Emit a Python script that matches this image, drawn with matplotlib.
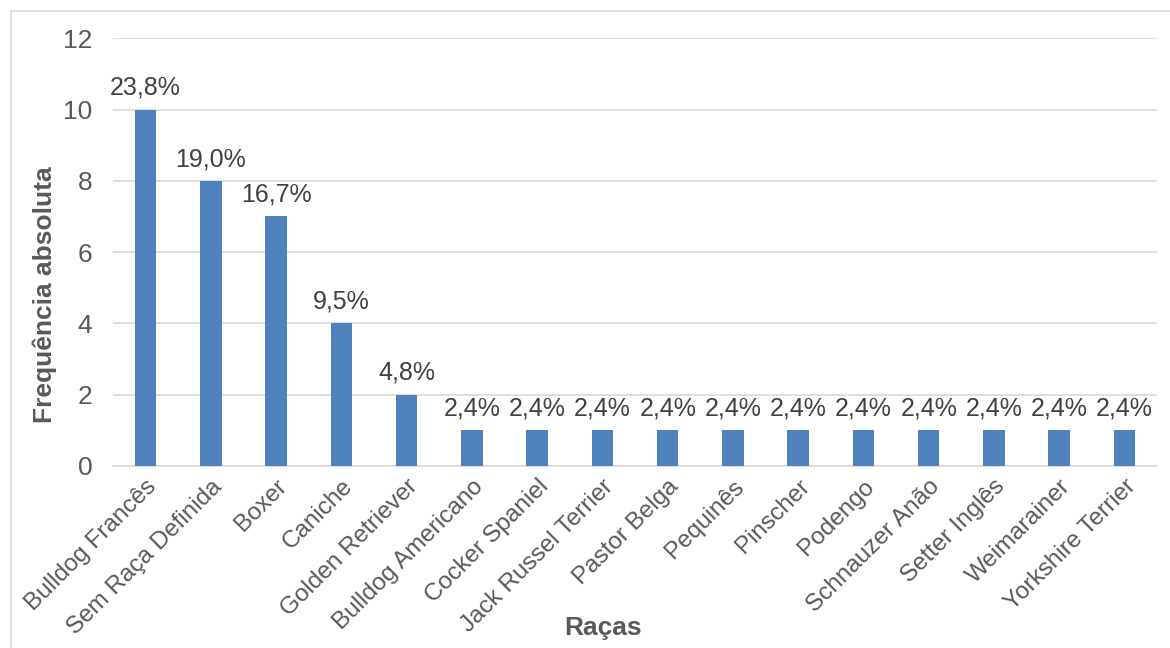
import matplotlib.pyplot as plt
from matplotlib.patches import Rectangle

plt.rcParams['font.family'] = ['Liberation Sans', 'DejaVu Sans']

# breeds and absolute counts
racas = ["Bulldog Francês", "Sem Raça Definida", "Boxer", "Caniche",
         "Golden Retriever", "Bulldog Americano", "Cocker Spaniel",
         "Jack Russel Terrier", "Pastor Belga", "Pequinês", "Pinscher",
         "Podengo", "Schnauzer Anão", "Setter Inglês", "Weimarainer",
         "Yorkshire Terrier"]
frequencia = [10, 8, 7, 4, 2, 1, 1, 1, 1, 1, 1, 1, 1, 1, 1, 1]
percentagens = ["23,8%", "19,0%", "16,7%", "9,5%", "4,8%", "2,4%", "2,4%",
                "2,4%", "2,4%", "2,4%", "2,4%", "2,4%", "2,4%", "2,4%",
                "2,4%", "2,4%"]

fig = plt.figure(figsize=(11.7, 6.48), dpi=100)
ax = fig.add_axes([0.0966, 0.281, 0.8924, 0.66])

# light frame around the chart like the excel export
fig.patches.append(Rectangle((11 / 1170, -0.05), 1.2, 1 - 11 / 648 + 0.05,
                             transform=fig.transFigure, fill=False,
                             edgecolor="#d9d9d9", linewidth=1.2))

x = range(len(racas))
bars = ax.bar(x, frequencia, width=0.33, color="#4f81bd", zorder=3)

for b, p in zip(bars, percentagens):
    ax.annotate(p, (b.get_x() + b.get_width() / 2, b.get_height()),
                xytext=(0, 7), textcoords="offset points",
                ha="center", va="bottom", fontsize=18, color="#404040")

ax.set_xlim(-0.5, len(racas) - 0.5)
ax.set_ylim(0, 12)
ax.set_yticks(range(0, 13, 2))
ax.set_xticks(list(x))
ax.set_xticklabels(racas, rotation=45, ha="right", rotation_mode="anchor",
                   fontsize=17.5, color="#595959")
ax.tick_params(axis="y", labelsize=19, labelcolor="#595959", length=0, pad=15)
ax.tick_params(axis="x", length=0, pad=7)

ax.grid(axis="y", color="#d9d9d9", linewidth=1.2, zorder=0)
for s in ["top", "right", "left"]:
    ax.spines[s].set_visible(False)
ax.spines["bottom"].set_color("#d9d9d9")
ax.spines["bottom"].set_linewidth(1.2)

fig.text(45 / 1170, 1 - 295 / 648, "Frequência absoluta", rotation=90,
         ha="center", va="center", fontsize=19, fontweight="bold",
         color="#595959")
fig.text(603 / 1170, 1 - 628 / 648, "Raças", ha="center", va="center",
         fontsize=19, fontweight="bold", color="#595959")

fig.savefig("out.png", dpi=100)
